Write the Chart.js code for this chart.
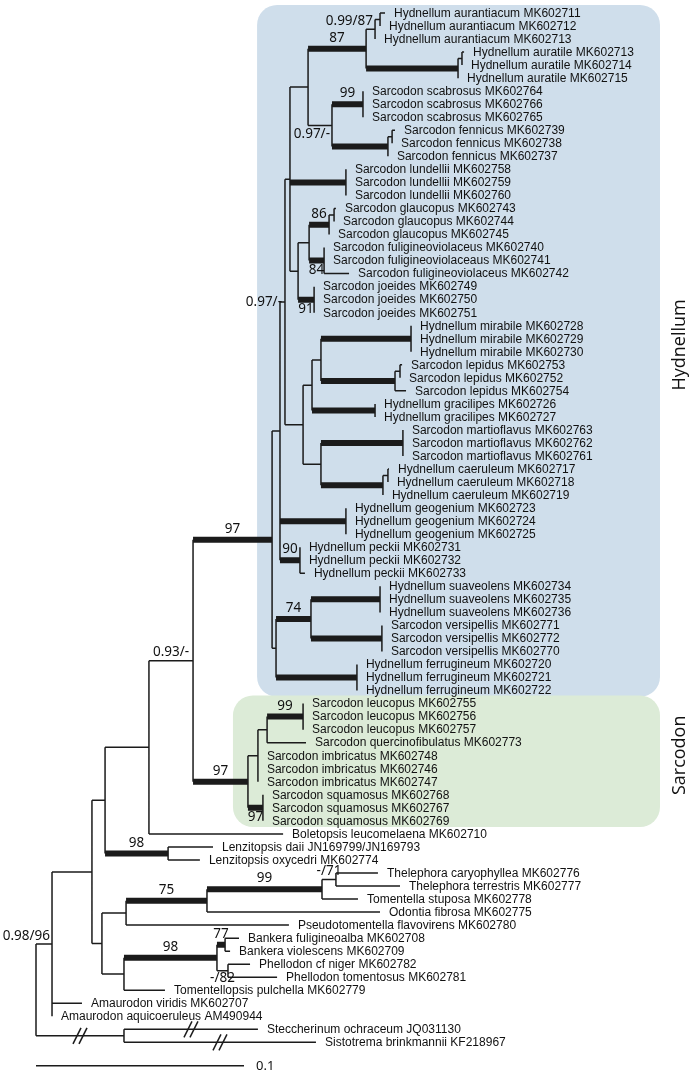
<!DOCTYPE html>
<html>
<head>
<meta charset="utf-8">
<script src="https://cdn.jsdelivr.net/npm/chart.js@4.4.1/dist/chart.umd.min.js"></script>
<style>
  body { margin: 0; background: #fff; }
  #wrap { position: relative; width: 694px; height: 1074px; }
</style>
</head>
<body>
<div id="wrap"><canvas id="tree"></canvas></div>
<script>
// terminal taxa, top to bottom (row = index)
const taxa = [
  "Hydnellum aurantiacum MK602711", "Hydnellum aurantiacum MK602712", "Hydnellum aurantiacum MK602713",
  "Hydnellum auratile MK602713", "Hydnellum auratile MK602714", "Hydnellum auratile MK602715",
  "Sarcodon scabrosus MK602764", "Sarcodon scabrosus MK602766", "Sarcodon scabrosus MK602765",
  "Sarcodon fennicus MK602739", "Sarcodon fennicus MK602738", "Sarcodon fennicus MK602737",
  "Sarcodon lundellii MK602758", "Sarcodon lundellii MK602759", "Sarcodon lundellii MK602760",
  "Sarcodon glaucopus MK602743", "Sarcodon glaucopus MK602744", "Sarcodon glaucopus MK602745",
  "Sarcodon fuligineoviolaceus MK602740", "Sarcodon fuligineoviolaceaus MK602741", "Sarcodon fuligineoviolaceus MK602742",
  "Sarcodon joeides MK602749", "Sarcodon joeides MK602750", "Sarcodon joeides MK602751",
  "Hydnellum mirabile MK602728", "Hydnellum mirabile MK602729", "Hydnellum mirabile MK602730",
  "Sarcodon lepidus MK602753", "Sarcodon lepidus MK602752", "Sarcodon lepidus MK602754",
  "Hydnellum gracilipes MK602726", "Hydnellum gracilipes MK602727",
  "Sarcodon martioflavus MK602763", "Sarcodon martioflavus MK602762", "Sarcodon martioflavus MK602761",
  "Hydnellum caeruleum MK602717", "Hydnellum caeruleum MK602718", "Hydnellum caeruleum MK602719",
  "Hydnellum geogenium MK602723", "Hydnellum geogenium MK602724", "Hydnellum geogenium MK602725",
  "Hydnellum peckii MK602731", "Hydnellum peckii MK602732", "Hydnellum peckii MK602733",
  "Hydnellum suaveolens MK602734", "Hydnellum suaveolens MK602735", "Hydnellum suaveolens MK602736",
  "Sarcodon versipellis MK602771", "Sarcodon versipellis MK602772", "Sarcodon versipellis MK602770",
  "Hydnellum ferrugineum MK602720", "Hydnellum ferrugineum MK602721", "Hydnellum ferrugineum MK602722",
  "Sarcodon leucopus MK602755", "Sarcodon leucopus MK602756", "Sarcodon leucopus MK602757",
  "Sarcodon quercinofibulatus MK602773",
  "Sarcodon imbricatus MK602748", "Sarcodon imbricatus MK602746", "Sarcodon imbricatus MK602747",
  "Sarcodon squamosus MK602768", "Sarcodon squamosus MK602767", "Sarcodon squamosus MK602769",
  "Boletopsis leucomelaena MK602710",
  "Lenzitopsis daii JN169799/JN169793", "Lenzitopsis oxycedri MK602774",
  "Thelephora caryophyllea MK602776", "Thelephora terrestris MK602777",
  "Tomentella stuposa MK602778", "Odontia fibrosa MK602775",
  "Pseudotomentella flavovirens MK602780",
  "Bankera fuligineoalba MK602708", "Bankera violescens MK602709",
  "Phellodon cf niger MK602782", "Phellodon tomentosus MK602781",
  "Tomentellopsis pulchella MK602779",
  "Amaurodon viridis MK602707", "Amaurodon aquicoeruleus AM490944",
  "Steccherinum ochraceum JQ031130", "Sistotrema brinkmannii KF218967"
];

// distance of each tip from the root (substitutions/site)
const tipDepth = [
  0.1678, 0.1654, 0.1630, 0.2058, 0.2048, 0.2029,
  0.1572, 0.1572, 0.1572, 0.1726, 0.1712, 0.1692,
  0.1490, 0.1490, 0.1490, 0.1442, 0.1433, 0.1409,
  0.1385, 0.1385, 0.1505, 0.1337, 0.1337, 0.1337,
  0.1803, 0.1803, 0.1803, 0.1760, 0.1750, 0.1779,
  0.1630, 0.1630, 0.1764, 0.1764, 0.1764,
  0.1697, 0.1692, 0.1668, 0.1490, 0.1490, 0.1490,
  0.1269, 0.1269, 0.1293, 0.1654, 0.1654, 0.1654,
  0.1663, 0.1663, 0.1663, 0.1543, 0.1543, 0.1543,
  0.1284, 0.1284, 0.1284, 0.1298, 0.1067, 0.1067, 0.1067,
  0.1091, 0.1091, 0.1091, 0.1188, 0.0851, 0.0788,
  0.1644, 0.1750, 0.1548, 0.1654, 0.1216,
  0.0976, 0.0933, 0.1029, 0.1159, 0.0620,
  0.0221, 0.0077, 0.1067, 0.1346
];

// internal nodes: name, depth from root, children (numbers = tips)
const nodeNames = ["root", "R52", "X2", "A", "B", "M", "L", "N", "T", "V", "AA", "Y", "b1", "a5", "a2", "a1", "a4", "a3",
  "sf", "s1", "f1", "f0", "lund", "Z", "gf", "g1", "g0", "f2", "joe", "q303", "mlg", "ml", "mir", "l1", "l0", "grac",
  "mc", "mart", "c1", "c0", "geo", "peck", "W", "sv", "suav", "vers", "ferr", "O", "P", "Q", "R", "S",
  "C", "D", "F", "G", "H", "E", "I", "J", "K"];
const nodeDepth = [0, 0.0077, 0.0423, 0.0269, 0.0332, 0.0543, 0.0635, 0.0755, 0.1135, 0.1173, 0.1197, 0.1221, 0.1308, 0.1587, 0.1630, 0.1654, 0.2029, 0.2048,
  0.1423, 0.1572, 0.1692, 0.1712, 0.1490, 0.1260, 0.1313, 0.1409, 0.1433, 0.1385, 0.1337, 0.1284, 0.1327, 0.1370, 0.1803, 0.1726, 0.1750, 0.1630,
  0.1370, 0.1764, 0.1668, 0.1692, 0.1490, 0.1269, 0.1154, 0.1322, 0.1654, 0.1663, 0.1543, 0.1019, 0.1067, 0.1111, 0.1284, 0.1091,
  0.0317, 0.0433, 0.0822, 0.1375, 0.1442, 0.0423, 0.0870, 0.0909, 0.0923];
const nodeChildren = [
  ["R52", "X2"], ["A", 76, 77], [78, 79], ["B", "C"], ["M", "L"], ["N", 63], [64, 65], ["T", "O"], ["V", "W"],
  ["AA", "geo", "peck"], ["Y", "q303"], ["b1", "lund", "Z"], ["a5", "sf"], ["a2", "a4"], ["a1", 2], [0, 1], ["a3", 5], [3, 4],
  ["s1", "f1"], [6, 7, 8], ["f0", 11], [9, 10], [12, 13, 14], ["gf", "joe"], ["g1", "f2"], ["g0", 17], [15, 16], [18, 19, 20], [21, 22, 23],
  ["mlg", "mc"], ["ml", "grac"], ["mir", "l1"], [24, 25, 26], ["l0", 29], [27, 28], [30, 31],
  ["mart", "c1"], [32, 33, 34], ["c0", 37], [35, 36], [38, 39, 40], [41, 42, 43],
  ["sv", "ferr"], ["suav", "vers"], [44, 45, 46], [47, 48, 49], [50, 51, 52],
  ["P", "S"], ["Q", 57, 58, 59], ["R", 56], [53, 54, 55], [60, 61, 62],
  ["D", "E"], ["F", 70], ["G", 69], ["H", 68], [66, 67], ["I", 75], ["J", "K"], [71, 72], [73, 74]
];

// branches drawn bold (well supported)
const thickBranches = ["a5", "a4", "s1", "f1", "lund", "g1", "f2", "joe", "mir", "l1", "grac", "mart", "c1", "geo", "peck",
  "suav", "vers", "sv", "ferr", "T", "R", "O", "S", "L", "F", "G", "I", "J"];

// support values (PP / BS) on the branch leading to a node
const supportNode = ["a2", "a5", "s1", "sf", "g1", "f2", "joe", "AA", "peck", "T", "sv", "N", "O", "R", "S", "L", "F", "G", "H", "I", "J", "K", "R52"];
const supportText = ["0.99/87", "87", "99", "0.97/-", "86", "84", "91", "0.97/-", "90", "97", "74", "0.93/-", "97", "99", "97", "98", "75", "99", "-/71", "98", "77", "-/82", "0.98/96"];
const supportPlace = ["aboveLeft", "above", "above", "belowLeft", "above", "below", "below", "left", "above", "above", "above", "above", "above", "above", "below", "above", "above", "above", "above", "above", "above", "below", "aboveLeft"];

// branches shortened in the drawing
const brokenBranches = ["X2", 78, 79];

// highlighted clades
const cladeNames = ["Hydnellum", "Sarcodon"];
const cladeNodes = ["T", "O"];
const cladeColors = ["#cfdeeb", "#dcebd7"];

const scaleBarValue = 0.1;

// ---- tree helpers ----
const nodeIndex = {};
nodeNames.forEach((n, i) => nodeIndex[n] = i);

function depthOf(ref) {
  return typeof ref === "number" ? tipDepth[ref] : nodeDepth[nodeIndex[ref]];
}
function rowOf(ref) {
  if (typeof ref === "number") return ref;
  const kids = nodeChildren[nodeIndex[ref]];
  return (rowOf(kids[0]) + rowOf(kids[kids.length - 1])) / 2;
}
function tipRange(ref) {
  if (typeof ref === "number") return [ref, ref];
  const kids = nodeChildren[nodeIndex[ref]];
  return [tipRange(kids[0])[0], tipRange(kids[kids.length - 1])[1]];
}
const parentOf = {};
nodeNames.forEach((n, i) => nodeChildren[i].forEach(c => parentOf[c] = n));

// build line segments
const thinPts = [];
const thickPts = [];
const gap = { x: null, y: null };
nodeNames.forEach((n, i) => {
  const kids = nodeChildren[i];
  const x = nodeDepth[i];
  thinPts.push({ x: x, y: rowOf(kids[0]) }, { x: x, y: rowOf(kids[kids.length - 1]) }, gap);
  kids.forEach(c => {
    const cx = depthOf(c);
    if (cx <= x) return;
    const target = thickBranches.includes(c) ? thickPts : thinPts;
    target.push({ x: x, y: rowOf(c) }, { x: cx, y: rowOf(c) }, gap);
  });
});

const lineColor = "#1b1b1b";
const labelFont = "12px 'Liberation Sans', Arial, sans-serif";
const supportFont = "13.5px 'Noto Sans', sans-serif";

const treeDecor = {
  id: "treeDecor",
  beforeDatasetsDraw(chart) {
    const ctx = chart.ctx;
    const xs = chart.scales.x, ys = chart.scales.y;
    ctx.save();
    // clade boxes
    cladeNodes.forEach((n, i) => {
      const r = tipRange(n);
      const left = xs.getPixelForValue(nodeDepth[nodeIndex[n]]) - 15;
      const top = Math.max(0, ys.getPixelForValue(r[0] - 0.62));
      const bottom = ys.getPixelForValue(r[1] + 0.48);
      const right = 660;
      ctx.fillStyle = cladeColors[i];
      ctx.beginPath();
      ctx.roundRect(left, top, right - left, bottom - top, 20);
      ctx.fill();
      // clade name, rotated
      ctx.save();
      ctx.translate(680, (top + bottom) / 2 - 6);
      ctx.rotate(-Math.PI / 2);
      ctx.fillStyle = "#111";
      ctx.font = "18px 'Open Sans', sans-serif";
      ctx.textAlign = "center";
      ctx.textBaseline = "middle";
      ctx.fillText(cladeNames[i], 0, 0);
      ctx.restore();
    });
    ctx.restore();
  },
  afterDatasetsDraw(chart) {
    const ctx = chart.ctx;
    const xs = chart.scales.x, ys = chart.scales.y;
    ctx.save();
    ctx.fillStyle = "#111";
    // tip labels
    ctx.font = labelFont;
    ctx.textAlign = "left";
    ctx.textBaseline = "middle";
    taxa.forEach((t, i) => {
      ctx.fillText(t, xs.getPixelForValue(tipDepth[i]) + 9, ys.getPixelForValue(i) + 0.5);
    });
    // support values
    ctx.font = supportFont;
    supportNode.forEach((n, i) => {
      const nx = xs.getPixelForValue(depthOf(n));
      const px = xs.getPixelForValue(depthOf(parentOf[n]));
      const ny = ys.getPixelForValue(rowOf(n));
      const thick = thickBranches.includes(n) ? 3 : 1;
      const place = supportPlace[i];
      if (place === "above") {
        ctx.textAlign = "center"; ctx.textBaseline = "bottom";
        ctx.fillText(supportText[i], (nx + px) / 2, ny - thick - 1);
      } else if (place === "below") {
        ctx.textAlign = "center"; ctx.textBaseline = "top";
        ctx.fillText(supportText[i], (nx + px) / 2, ny + thick);
      } else if (place === "aboveLeft") {
        ctx.textAlign = "right"; ctx.textBaseline = "bottom";
        ctx.fillText(supportText[i], nx - 2, ny - thick);
      } else if (place === "belowLeft") {
        ctx.textAlign = "right"; ctx.textBaseline = "top";
        ctx.fillText(supportText[i], nx - 2, ny + thick + 1);
      } else {
        ctx.textAlign = "right"; ctx.textBaseline = "middle";
        ctx.fillText(supportText[i], nx - 3, ny);
      }
    });
    // break marks
    ctx.strokeStyle = lineColor;
    ctx.lineWidth = 1.5;
    brokenBranches.forEach(b => {
      const cx = (xs.getPixelForValue(depthOf(b)) + xs.getPixelForValue(depthOf(parentOf[b]))) / 2;
      const cy = ys.getPixelForValue(rowOf(b));
      [-3, 3].forEach(off => {
        ctx.beginPath();
        ctx.moveTo(cx + off - 4, cy + 8);
        ctx.lineTo(cx + off + 4, cy - 8);
        ctx.stroke();
      });
    });
    // scale bar
    const sy = ys.getPixelForValue(80.8);
    const sx0 = xs.getPixelForValue(0), sx1 = xs.getPixelForValue(scaleBarValue);
    ctx.beginPath();
    ctx.moveTo(sx0, sy);
    ctx.lineTo(sx1, sy);
    ctx.stroke();
    ctx.font = "13px 'Noto Sans', sans-serif";
    ctx.textAlign = "left";
    ctx.textBaseline = "middle";
    ctx.fillText(String(scaleBarValue), sx1 + 12, sy);
    ctx.restore();
  }
};

const rowPx = 13.03;
const yMin = -13 / rowPx;
const xPerUnit = 2080;
const xMin = -36 / xPerUnit;

new Chart(document.getElementById("tree"), {
  type: "scatter",
  data: {
    datasets: [
      { data: thinPts, showLine: true, borderColor: lineColor, borderWidth: 1.5, pointRadius: 0, spanGaps: false },
      { data: thickPts, showLine: true, borderColor: lineColor, borderWidth: 6, pointRadius: 0, spanGaps: false }
    ]
  },
  options: {
    responsive: true,
    maintainAspectRatio: false,
    animation: false,
    layout: { padding: 0 },
    plugins: { legend: { display: false }, tooltip: { enabled: false } },
    scales: {
      x: { type: "linear", display: false, min: xMin, max: xMin + 694 / xPerUnit },
      y: { type: "linear", display: false, reverse: true, min: yMin, max: yMin + 1074 / rowPx }
    }
  },
  plugins: [treeDecor]
});
</script>
</body>
</html>
